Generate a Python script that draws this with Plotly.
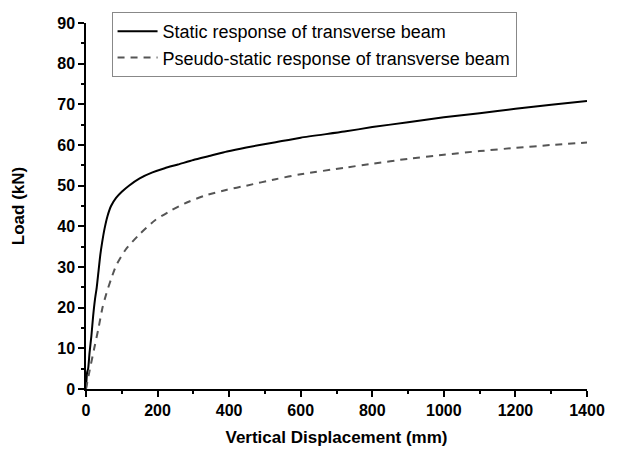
import plotly.graph_objects as go

static_x = [0, 3, 6, 10, 15, 20, 25, 30, 35, 40, 45, 52, 60, 70, 84, 100, 120, 150, 184, 220, 257, 300, 350, 394, 448, 530, 600, 722, 800, 900, 1000, 1100, 1200, 1300, 1400]
static_y = [0, 4, 5, 9, 13, 18, 22, 25, 29, 33, 36, 39.5, 42.5, 45, 47, 48.5, 50, 51.8, 53.2, 54.3, 55.2, 56.3, 57.4, 58.4, 59.4, 60.7, 61.8, 63.3, 64.4, 65.6, 66.8, 67.8, 68.9, 69.9, 70.8]

pseudo_x = [0, 10, 23, 35, 46, 57, 70, 84, 111, 148, 193, 240, 275, 330, 394, 448, 530, 600, 722, 800, 900, 1000, 1100, 1200, 1300, 1400]
pseudo_y = [0, 4.5, 10, 15, 20, 23.5, 27, 30.3, 34.3, 37.9, 41.5, 44, 45.6, 47.5, 49, 50, 51.6, 52.8, 54.4, 55.4, 56.6, 57.6, 58.5, 59.3, 60, 60.6]

names = ["Static response of transverse beam", "Pseudo-static response of transverse beam"]

fig = go.Figure()
fig.add_trace(go.Scatter(x=static_x, y=static_y, mode="lines", name=names[0],
                         line=dict(color="black", width=2, shape="spline", smoothing=0.6)))
fig.add_trace(go.Scatter(x=pseudo_x, y=pseudo_y, mode="lines", name=names[1],
                         line=dict(color="#555555", width=2, dash="7px,6px", shape="spline", smoothing=0.6)))

axis_common = dict(showline=True, linecolor="black", linewidth=1.5, ticks="outside",
                   ticklen=6, tickwidth=1.5, tickcolor="black", showgrid=False, zeroline=False,
                   tickfont=dict(family="Liberation Sans", size=16, color="black", weight="bold"),
                   mirror=False)

fig.update_xaxes(range=[0, 1400], tickvals=[0, 200, 400, 600, 800, 1000, 1200, 1400],
                 minor=dict(dtick=100, ticks="outside", ticklen=3, tickwidth=1.5, tickcolor="black"),
                 title=dict(text="Vertical Displacement (mm)", standoff=13,
                            font=dict(family="Liberation Sans", size=17, color="black", weight="bold")),
                 **axis_common)
fig.update_yaxes(range=[0, 90], tickvals=[0, 10, 20, 30, 40, 50, 60, 70, 80, 90],
                 minor=dict(dtick=5, ticks="outside", ticklen=3, tickwidth=1.5, tickcolor="black"),
                 title=dict(text="Load (kN)", standoff=28,
                            font=dict(family="Liberation Sans", size=17, color="black", weight="bold")),
                 **axis_common)

fig.update_layout(
    width=617, height=457,
    margin=dict(l=86, r=19, t=16, b=68),
    plot_bgcolor="white", paper_bgcolor="white",
    legend=dict(x=0.051, y=1.03, xanchor="left", yanchor="top",
                bordercolor="#888888", borderwidth=1, bgcolor="white",
                font=dict(family="Liberation Sans", size=18, color="black"),
                tracegroupgap=0, itemwidth=40),
)

fig.write_html("out.html")
